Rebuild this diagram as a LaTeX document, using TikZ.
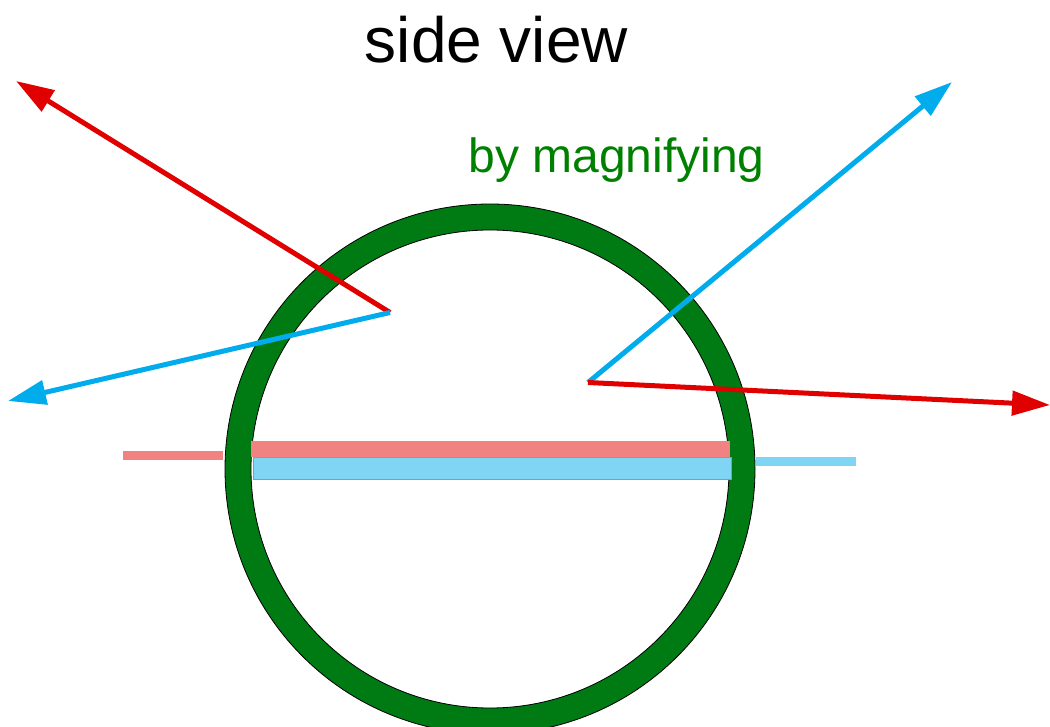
\documentclass[tikz,border=0pt]{standalone}
\usepackage{fontspec}
\setmainfont{Liberation Sans}
\usetikzlibrary{arrows.meta}
\definecolor{rayred}{RGB}{224,0,0}
\definecolor{rayblue}{RGB}{0,172,236}
\definecolor{ringgreen}{RGB}{0,122,18}
\definecolor{textgreen}{RGB}{0,128,0}
\definecolor{barpink}{RGB}{240,130,130}
\definecolor{barblue}{RGB}{128,212,244}
\tikzset{
  ray/.style={line width=5pt, -{Triangle[length=38pt,width=24pt]}},
  redray/.style={ray, draw=rayred},
  blueray/.style={ray, draw=rayblue},
}
\begin{document}
\begin{tikzpicture}[x=1pt,y=-1pt]
\useasboundingbox (0,0) rectangle (1050,727);
% ring
\fill[ringgreen, even odd rule] (490,469) circle (265) (490,469) circle (239);
\draw[black, line width=0.8pt] (490,469) circle (265) (490,469) circle (239);
% bars
\fill[barpink] (251,441) rectangle (730,457);
\filldraw[fill=barblue, draw=barpink!70!gray, line width=0.8pt] (253,457) rectangle (731,479);
\coordinate (pl1) at (123,455.5);
\coordinate (pl2) at (223,455.5);
\coordinate (bl1) at (756,461.5);
\coordinate (bl2) at (856,461.5);
\draw[barpink, line width=9pt] (pl1) -- (pl2);
\draw[barblue, line width=9pt] (bl1) -- (bl2);
% rays
\coordinate (o1) at (390,312.5);
\coordinate (o2) at (588,382.5);
\coordinate (t1) at (16,81);
\coordinate (t2) at (8,401);
\coordinate (t3) at (952,82);
\coordinate (t4) at (1050,405);
\draw[redray] (o1) -- (t1);
\draw[blueray] (o1) -- (t2);
\draw[blueray] (o2) -- (t3);
\draw[redray] (o2) -- (t4);
% texts
\node[anchor=base, inner sep=0pt, font=\fontsize{64}{72}\selectfont] (title) at (496.5,63) {side view};
\node[anchor=base, inner sep=0pt, text=textgreen, font=\fontsize{48}{56}\selectfont] (mag) at (616.5,173) {by magnifying};
\end{tikzpicture}
\end{document}
